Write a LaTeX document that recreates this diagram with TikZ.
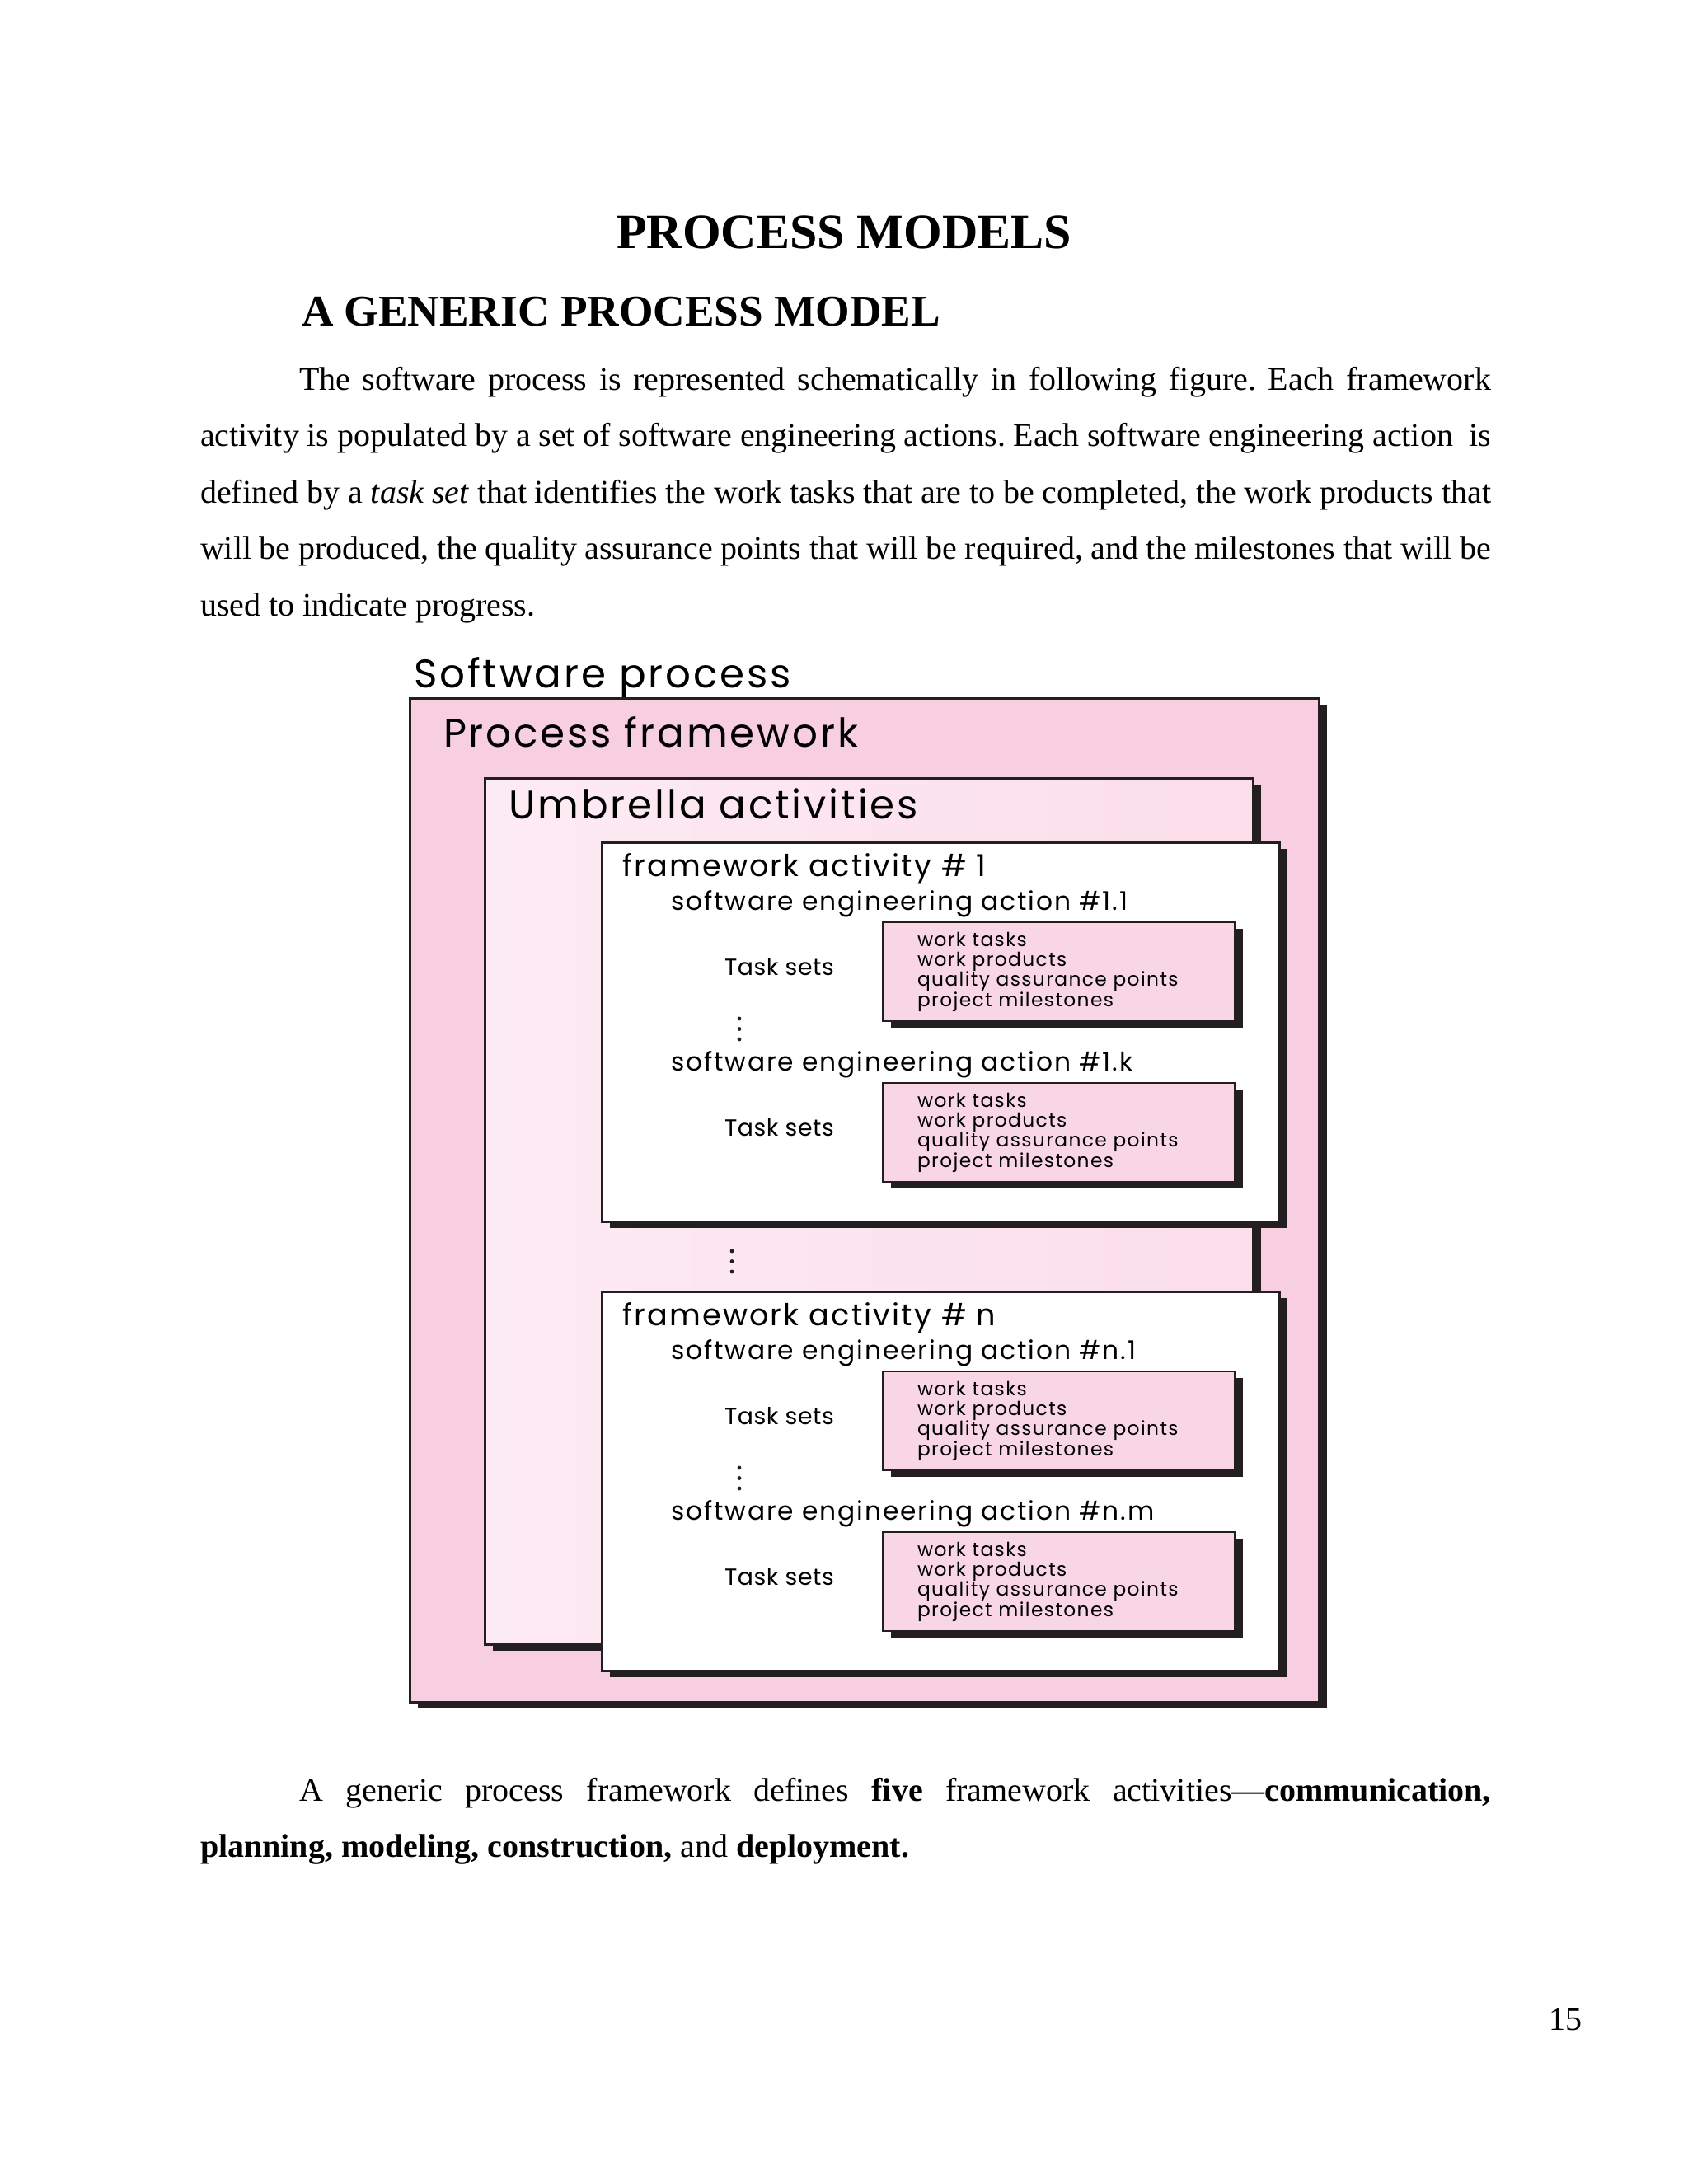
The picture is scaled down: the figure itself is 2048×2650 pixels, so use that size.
\documentclass[tikz,border=0pt]{standalone}
\usepackage{fontspec}
\setmainfont{Liberation Serif}
\newfontfamily\diagfont[LetterSpace=6]{Poppins}
\newfontfamily\labelfont[LetterSpace=2]{Poppins}
\usetikzlibrary{positioning,calc}

\definecolor{outerpink}{RGB}{248,207,225}
\definecolor{umbleft}{RGB}{253,235,243}
\definecolor{umbright}{RGB}{250,222,234}
\definecolor{taskpink}{RGB}{249,214,229}
\definecolor{edge}{RGB}{35,31,32}

% one task set box with its label and list, #1 name, #2 top (relative)
\newcommand{\taskset}[2]{%
  \fill[edge] (1081,#2+8) rectangle (1508,#2+128);
  \filldraw[fill=taskpink, draw=edge, line width=0.8pt] (1071,#2) rectangle (1498,#2+120);
  \node[tasklabel] (#1-label) at (879,#2+64) {Task sets};
  \foreach \item [count=\i] in {work tasks, work products, quality assurance points, project milestones}
    \node[leveld] (#1-item\i) at (1113,#2+29+24.4*\i-24.4) {\item};
}

% one framework activity box, #1 name, #2 top, #3 number, #4 first action, #5 last action
\newcommand{\actframe}[5]{%
  \begin{scope}[shift={(0,#2)}]
    \fill[edge] (740,8) rectangle (1562,468);
    \filldraw[fill=white, draw=edge, line width=0.9pt] (730,0) rectangle (1552,460);
    \node[levelb] (#1-title) at (755,41) {framework activity \# #3};
    \node[levelc] (#1-first) at (814,82) {software engineering action \##4};
    \taskset{#1-setA}{97}
    \foreach \d in {0,12.5,25}
      \fill[edge] (897,214+\d) circle (2.4);
    \node[levelc] (#1-last) at (814,277) {software engineering action \##5};
    \taskset{#1-setB}{292}
  \end{scope}
}

\begin{document}
\frenchspacing
\begin{tikzpicture}[x=0.3pt, y=-0.3pt,
    every node/.style={inner sep=0pt, outer sep=0pt},
    bodytext/.style={anchor=base west, text width=469.8pt, align=justify, font=\fontsize{12}{20.55}\selectfont},
    levela/.style={anchor=base west, font=\diagfont\fontsize{14.5}{16}\selectfont},
    levelb/.style={anchor=base west, font=\diagfont\fontsize{11}{12}\selectfont},
    levelc/.style={anchor=base west, font=\diagfont\fontsize{9.4}{10}\selectfont},
    tasklabel/.style={anchor=base west, font=\labelfont\fontsize{8.5}{10}\selectfont},
    leveld/.style={anchor=base west, font=\diagfont\fontsize{7}{8}\selectfont}
]
\useasboundingbox (0,0) rectangle (2048,2650);

% Page text
\node[anchor=base, font=\fontsize{18}{20}\selectfont\bfseries] (title) at (1024,301) {PROCESS MODELS};
\node[anchor=base west, font=\fontsize{16}{18}\selectfont\bfseries] (subtitle) at (366,395) {A GENERIC PROCESS MODEL};
\node[bodytext] (intro) at (243,473) {\hspace*{36pt}The software process is represented schematically in following figure. Each framework\linebreak
activity is populated by a set of software engineering actions. Each software engineering action \ is\linebreak
defined by a \textit{task set} that identifies the work tasks that are to be completed, the work products that\linebreak
will be produced, the quality assurance points that will be required, and the milestones that will be\linebreak
used to indicate progress.};

% Outer boxes
\node[levela] (software) at (502,834) {Software process};
\fill[edge] (507,855) rectangle (1610,2073);
\filldraw[fill=outerpink, draw=edge, line width=0.9pt] (497,847) rectangle (1600,2065);
\node[levela] (framework) at (538,906) {Process framework};
\fill[edge] (598,952) rectangle (1530,2003);
\shade[left color=umbleft, right color=umbright] (588,944) rectangle (1520,1995);
\draw[edge, line width=0.9pt] (588,944) rectangle (1520,1995);
\node[levela] (umbrella) at (617,993) {Umbrella activities};

% Framework activities
\actframe{actone}{1022}{1}{1.1}{1.k}
\foreach \d in {0,12.5,25}
  \fill[edge] (888,1518+\d) circle (2.4);
\actframe{actn}{1567}{n}{n.1}{n.m}

% Closing text
\node[bodytext] (closing) at (243,2185) {\hspace*{36pt}A generic process framework defines \textbf{five} framework activities---\textbf{communication,}\linebreak
\textbf{planning, modeling, construction,} and \textbf{deployment.}};
\node[anchor=base east, font=\fontsize{12}{14}\selectfont] (pagenum) at (1919,2463) {15};

\end{tikzpicture}
\end{document}
